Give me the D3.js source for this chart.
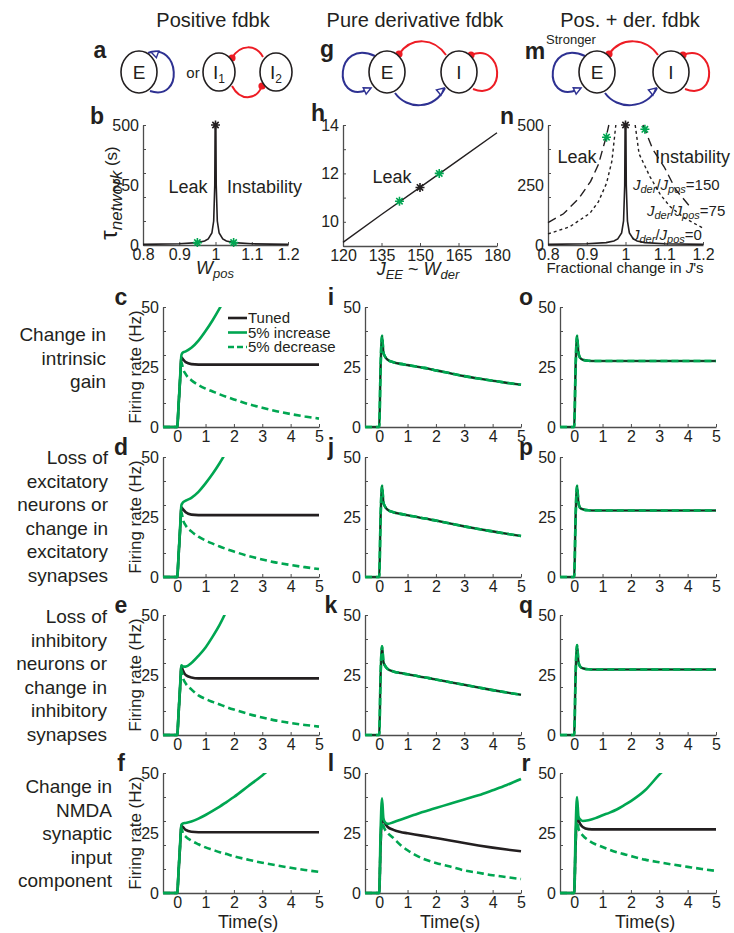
<!DOCTYPE html>
<html>
<head>
<meta charset="utf-8">
<script src="https://cdn.jsdelivr.net/npm/d3@7"></script>
<style>
  body { margin: 0; background: #fff; }
  svg text { font-family: "Liberation Sans", Arial, sans-serif; fill: #231f20; }
</style>
</head>
<body>
<script>
// ---- data ----
const colTitles = ["Positive fdbk", "Pure derivative fdbk", "Pos. + der. fdbk"];
const rowLabels = [
  ["Change in", "intrinsic", "gain"],
  ["Loss of", "excitatory", "neurons or", "change in", "excitatory", "synapses"],
  ["Loss of", "inhibitory", "neurons or", "change in", "inhibitory", "synapses"],
  ["Change in", "NMDA", "synaptic", "input", "component"]
];
const legendLabels = ["Tuned", "5% increase", "5% decrease"];

// b: tau_network vs W_pos
const wPos   = [0.8, 0.9, 0.95, 0.97, 0.98, 0.99, 0.995, 0.998, 0.999, 1, 1.001, 1.002, 1.005, 1.01, 1.02, 1.03, 1.05, 1.1, 1.2];
const tauPos = [2.5, 5, 10, 17, 25, 50, 100, 250, 500, 500, 500, 250, 100, 50, 25, 17, 10, 5, 2.5];
const bStarW = [0.95, 1.05], bStarTau = [10, 10];
const bPeak = [1, 500];

// h: tau_network vs J_EE ~ W_der
const jEE    = [120, 135, 150, 165, 180];
const tauDer = [9.15, 10.3, 11.42, 12.55, 13.68];
const hStarJ = [142, 157.5], hStarTau = [10.85, 12.0];
const hPeak = [150, 11.42];

// n: tau_network vs fractional change in J's
const frac0 = wPos, tau0 = tauPos;
const frac150L = [0.8, 0.84, 0.88, 0.91, 0.93, 0.95, 0.957];
const tau150L  = [93, 130, 195, 265, 335, 450, 500];
const frac150R = [1.045, 1.05, 1.07, 1.1, 1.13, 1.17];
const tau150R  = [500, 482, 400, 325, 230, 153];
const frac75L  = [0.8, 0.856, 0.908, 0.93, 0.951, 0.965, 0.975];
const tau75L   = [46, 76, 132, 180, 257, 350, 500];
const frac75R  = [1.025, 1.035, 1.063, 1.09, 1.115, 1.15, 1.2];
const tau75R   = [500, 380, 285, 210, 160, 115, 70];
const nStarF = [0.951, 1.05], nStarTau = [449, 482];
const nPeak = [1, 500];

// c-r: firing rate (Hz) sampled at these times (s)
const T = [-0.5, 0, 0.05, 0.1, 0.15, 0.2, 0.3, 0.5, 0.75, 1, 1.25, 1.5, 1.75, 2, 2.5, 3, 3.5, 4, 4.5, 5];

const cTuned = [0, 0, 9, 19, 29, 28.3, 27, 26.2, 26, 26, 26, 26, 26, 26, 26, 26, 26, 26, 26, 26];
const cUp    = [0, 0, 9.5, 20, 30, 31, 31.5, 33, 36, 40, 44.5, 49.5, 55];
const cDown  = [0, 0, 9, 19, 27, 24.5, 22, 19.5, 17.5, 16, 14.8, 13.6, 12.5, 11.5, 9.6, 8, 6.6, 5.4, 4.4, 3.5];

const dTuned = [0, 0, 9, 19, 29, 28.3, 27, 26, 25.8, 25.8, 25.8, 25.8, 25.8, 25.8, 25.8, 25.8, 25.8, 25.8, 25.8, 25.8];
const dUp    = [0, 0, 9.5, 20, 30, 31, 31.8, 33, 35.5, 39, 43, 47.5, 52.5];
const dDown  = [0, 0, 9, 19, 27, 24, 21.5, 19, 16.8, 15.2, 13.9, 12.7, 11.6, 10.6, 8.8, 7.3, 6, 5, 4.1, 3.3];

const eTuned = [0, 0, 9, 19, 28.5, 27, 25, 24, 23.6, 23.6, 23.6, 23.6, 23.6, 23.6, 23.6, 23.6, 23.6, 23.6, 23.6, 23.6];
const eUp    = [0, 0, 9.5, 20, 29, 28.6, 28.5, 30, 33, 36.5, 41, 46, 52];
const eDown  = [0, 0, 9, 19, 27, 24, 21.5, 19, 16.5, 15, 13.8, 12.7, 11.6, 10.6, 8.8, 7.3, 6, 5, 4.2, 3.5];

const fTuned = [0, 0, 9, 19, 28, 27.5, 26.3, 25.5, 25.3, 25.3, 25.3, 25.3, 25.3, 25.3, 25.3, 25.3, 25.3, 25.3, 25.3, 25.3];
const fUp    = [0, 0, 9.5, 20, 28.5, 29, 29.2, 29.8, 31, 32.5, 34.2, 36, 38, 40, 44.5, 49, 54];
const fDown  = [0, 0, 9, 19, 27, 25, 23.5, 21.8, 20.3, 19, 18, 17, 16.2, 15.3, 13.9, 12.6, 11.5, 10.5, 9.6, 8.8];

const iRate = [0, 0, 25, 38, 31, 29.5, 28, 27, 26.3, 25.8, 25.3, 24.8, 24.3, 23.6, 22.4, 21.2, 20.2, 19.3, 18.4, 17.6];
const jRate = [0, 0, 25, 38, 31, 29.5, 28, 27, 26.3, 25.7, 25.2, 24.6, 24.1, 23.5, 22.3, 21.1, 20, 19, 18, 17.1];
const kRate = [0, 0, 25, 37, 30.5, 29, 27.5, 26.5, 25.8, 25.3, 24.8, 24.2, 23.7, 23.1, 22, 20.9, 19.8, 18.7, 17.7, 16.8];

const lTuned = [0, 0, 20, 32, 30, 29, 27.5, 26.3, 25.4, 24.9, 24.4, 23.9, 23.4, 22.9, 21.9, 20.8, 19.8, 18.9, 18.1, 17.4];
const lUp    = [0, 0, 26, 39.5, 31, 29.5, 28.8, 29.5, 30.5, 31.6, 32.6, 33.6, 34.5, 35.4, 37.2, 39, 40.7, 42.8, 45, 47.5];
const lDown  = [0, 0, 20, 32, 28, 26.5, 25, 22.9, 20, 17.8, 16, 14.5, 13.4, 12.5, 11, 9.4, 8.4, 7.4, 6.6, 5.8];

const oRate = [0, 0, 25, 38, 31, 29, 28, 27.6, 27.5, 27.5, 27.5, 27.5, 27.5, 27.5, 27.5, 27.5, 27.5, 27.5, 27.5, 27.5];
const pRate = [0, 0, 25, 38, 31, 29, 28.2, 27.8, 27.7, 27.7, 27.7, 27.7, 27.7, 27.7, 27.7, 27.7, 27.7, 27.7, 27.7, 27.7];
const qRate = [0, 0, 25, 37.5, 30.5, 28.7, 27.8, 27.4, 27.3, 27.3, 27.3, 27.3, 27.3, 27.3, 27.3, 27.3, 27.3, 27.3, 27.3, 27.3];

const rTuned = [0, 0, 20, 33, 30.5, 29, 27.5, 26.6, 26.5, 26.5, 26.5, 26.5, 26.5, 26.5, 26.5, 26.5, 26.5, 26.5, 26.5, 26.5];
const rUp    = [0, 0, 26, 40, 32, 30.8, 30, 30.3, 31.2, 32.4, 33.5, 34.8, 36.5, 38.3, 42.8, 49.3, 55];
const rDown  = [0, 0, 20, 32, 27, 25.6, 24, 22, 20.3, 19.2, 18, 17, 16.2, 15.4, 13.9, 12.8, 11.8, 10.9, 10, 9.2];

const panels = [
  { id: "c", col: 0, row: 0, tuned: cTuned, up: cUp, down: cDown },
  { id: "d", col: 0, row: 1, tuned: dTuned, up: dUp, down: dDown },
  { id: "e", col: 0, row: 2, tuned: eTuned, up: eUp, down: eDown },
  { id: "f", col: 0, row: 3, tuned: fTuned, up: fUp, down: fDown },
  { id: "i", col: 1, row: 0, tuned: iRate, up: iRate, down: iRate },
  { id: "j", col: 1, row: 1, tuned: jRate, up: jRate, down: jRate },
  { id: "k", col: 1, row: 2, tuned: kRate, up: kRate, down: kRate },
  { id: "l", col: 1, row: 3, tuned: lTuned, up: lUp, down: lDown },
  { id: "o", col: 2, row: 0, tuned: oRate, up: oRate, down: oRate },
  { id: "p", col: 2, row: 1, tuned: pRate, up: pRate, down: pRate },
  { id: "q", col: 2, row: 2, tuned: qRate, up: qRate, down: qRate },
  { id: "r", col: 2, row: 3, tuned: rTuned, up: rUp, down: rDown }
];

// ---- layout ----
const GREEN = "#00a651", BLACK = "#231f20", BLUE = "#2e3192", RED = "#ed1c24", AXIS = "#4d4d4d";
const colX = [163, 365, 560], panelW = 156;
const rowTop = [307, 457, 615, 773], panelH = 120;
const rowLabelX = [106, 108, 107, 112], rowLabelY = [341, 464, 623, 793], rowLabelGap = 23.6;
const letterDX = [-42, -34, -34];

const svg = d3.select("body").append("svg").attr("width", 734).attr("height", 933);
svg.append("rect").attr("width", 734).attr("height", 933).attr("fill", "#fff");
const defs = svg.append("defs");

// MATLAB-like axes: left + bottom line, inward ticks, labels set separately
function drawAxes(g, x, y, o) {
  const x0 = x.range()[0], y0 = y.range()[0];
  const ya = g.append("g").attr("transform", `translate(${x0},0)`)
    .call(d3.axisLeft(y).tickValues(o.yTicks).tickSizeInner(-3).tickSizeOuter(0).tickFormat(""));
  const yl = g.append("g").attr("transform", `translate(${x0},0)`)
    .call(d3.axisLeft(y).tickValues(o.yLabels).tickSize(0).tickPadding(4).tickFormat(o.yFmt || d3.format("")));
  yl.select(".domain").remove();
  const xa = g.append("g").attr("transform", `translate(0,${y0})`)
    .call(d3.axisBottom(x).tickValues(o.xTicks).tickSizeInner(-3).tickSizeOuter(0).tickFormat(""));
  const xl = g.append("g").attr("transform", `translate(0,${y0})`)
    .call(d3.axisBottom(x).tickValues(o.xLabels).tickSize(0).tickPadding(4).tickFormat(o.xFmt || d3.format("")));
  xl.select(".domain").remove();
  [ya, xa].forEach(a => {
    a.select(".domain").attr("stroke", AXIS).attr("stroke-width", 1.3);
    a.selectAll(".tick line").attr("stroke", AXIS).attr("stroke-width", 1);
  });
  [yl, xl].forEach(a => a.selectAll("text").attr("font-size", 16).attr("font-family", null).attr("fill", "#231f20"));
}

function star(g, cx, cy, color) {
  const r = 4.5;
  let d = "";
  [0, 45, 90, 135].forEach(a => {
    const t = a * Math.PI / 180, dx = r * Math.cos(t), dy = r * Math.sin(t);
    d += `M${cx + dx},${cy + dy}L${cx - dx},${cy - dy}`;
  });
  g.append("path").attr("d", d).attr("stroke", color).attr("stroke-width", 1.6).attr("fill", "none");
}

function letter(x, y, s) {
  svg.append("text").attr("x", x).attr("y", y).attr("text-anchor", "middle")
    .attr("font-size", 23).attr("font-weight", "bold").text(s);
}

// ---- column titles ----
svg.selectAll(".coltitle").data(colTitles).join("text")
  .attr("class", "coltitle")
  .attr("x", (d, i) => [213, 415, 630][i]).attr("y", 27)
  .attr("text-anchor", "middle").attr("font-size", 20).text(d => d);

// ---- network schematics ----
const dg = svg.append("g").attr("fill", "none");
function node(cx, cy, rx, ry, lab, sub) {
  dg.append("ellipse").attr("cx", cx).attr("cy", cy).attr("rx", rx).attr("ry", ry)
    .attr("stroke", BLACK).attr("stroke-width", 1.6).attr("fill", "#fff");
  const t = dg.append("text").attr("x", cx).attr("y", cy + 7).attr("text-anchor", "middle").attr("font-size", 19);
  t.append("tspan").text(lab);
  if (sub) t.append("tspan").attr("font-size", 12).attr("dy", 4).text(sub);
}
function arc(d, color) {
  dg.append("path").attr("d", d).attr("stroke", color).attr("stroke-width", 2).attr("fill", "none");
}
function dot(x, y) { dg.append("circle").attr("cx", x).attr("cy", y).attr("r", 3.6).attr("fill", RED); }
function tri(x, y, ang) {
  const a = ang * Math.PI / 180, L = 7, W = 3.5;
  const bx = x - L * Math.cos(a), by = y - L * Math.sin(a);
  const px = -Math.sin(a) * W, py = Math.cos(a) * W;
  dg.append("path").attr("d", `M${x},${y}L${bx + px},${by + py}L${bx - px},${by - py}Z`)
    .attr("stroke", BLUE).attr("stroke-width", 1.4).attr("fill", "#fff");
}

// a
arc("M148,53 C180,42 184,102 150,91", BLUE); tri(151, 52, 200);
node(139, 72, 18, 21, "E");
svg.append("text").attr("x", 193).attr("y", 78).attr("text-anchor", "middle").attr("font-size", 15).text("or");
arc("M232,58 C240,44 256,44 263,57", RED); dot(232, 58);
arc("M232,86 C240,101 256,101 262,86", RED); dot(262, 86);
node(219, 72, 16, 19, "I", "1");
node(276, 72, 16, 19, "I", "2");
letter(100, 58, "a");

// g and m share the same wiring
function exciteInhib(ex, ix) {
  arc(`M${ex - 12},${56} C${ex - 52},${38} ${ex - 55},${104} ${ex - 20},${90}`, BLUE); tri(ex - 16, 88, -25);
  arc(`M${ex + 8},${93} C${ex + 20},${110} ${ix - 25},${110} ${ix - 14},${88}`, BLUE); tri(ix - 15, 88, -40);
  arc(`M${ix - 13},${55} C${ix - 25},${38} ${ex + 25},${36} ${ex + 12},${54}`, RED); dot(ex + 12, 54);
  arc(`M${ix + 12},${55} C${ix + 45},${42} ${ix + 48},${102} ${ix + 14},${89}`, RED); dot(ix + 12, 55);
  node(ex, 72, 18, 21, "E");
  node(ix, 72, 18, 21, "I");
}
exciteInhib(387, 459); letter(327, 57, "g");
exciteInhib(597, 671); letter(535, 59, "m");
svg.append("text").attr("x", 571).attr("y", 44).attr("text-anchor", "middle").attr("font-size", 13).text("Stronger");

// ---- b ----
{
  const g = svg.append("g");
  const x = d3.scaleLinear().domain([0.8, 1.2]).range([143, 288]);
  const y = d3.scaleLinear().domain([0, 500]).range([245, 125]);
  drawAxes(g, x, y, { yTicks: d3.range(0, 501, 100), yLabels: [0, 250, 500],
    xTicks: [0.8, 0.9, 1, 1.1, 1.2], xLabels: [0.8, 0.9, 1, 1.1, 1.2] });
  g.append("path").datum(wPos.map((w, i) => [w, tauPos[i]]))
    .attr("d", d3.line().x(d => x(d[0])).y(d => y(d[1])))
    .attr("fill", "none").attr("stroke", BLACK).attr("stroke-width", 1.6);
  bStarW.forEach((w, i) => star(g, x(w), y(bStarTau[i]), GREEN));
  star(g, x(bPeak[0]), y(bPeak[1]), BLACK);
  g.append("text").attr("x", 188).attr("y", 193).attr("text-anchor", "middle").attr("font-size", 18).text("Leak");
  g.append("text").attr("x", 227).attr("y", 193).attr("font-size", 18).text("Instability");
  const tl = g.append("text").attr("transform", "translate(117,193) rotate(-90)").attr("text-anchor", "middle").attr("font-size", 17);
  tl.append("tspan").attr("font-size", 24).text("τ");
  tl.append("tspan").attr("font-style", "italic").attr("dy", 5).text("network");
  tl.append("tspan").attr("dy", -5).text(" (s)");
  const xl = g.append("text").attr("x", 215).attr("y", 274).attr("text-anchor", "middle").attr("font-size", 18);
  xl.append("tspan").attr("font-style", "italic").text("W");
  xl.append("tspan").attr("font-style", "italic").attr("font-size", 13).attr("dy", 4).text("pos");
  letter(97, 124, "b");
}

// ---- h ----
{
  const g = svg.append("g");
  const x = d3.scaleLinear().domain([120, 180]).range([343, 497]);
  const y = d3.scaleLinear().domain([9, 14]).range([246, 125]);
  drawAxes(g, x, y, { yTicks: d3.range(9, 15), yLabels: [10, 12, 14],
    xTicks: [120, 135, 150, 165, 180], xLabels: [120, 135, 150, 165, 180] });
  g.append("path").datum(jEE.map((j, i) => [j, tauDer[i]]))
    .attr("d", d3.line().x(d => x(d[0])).y(d => y(d[1])))
    .attr("fill", "none").attr("stroke", BLACK).attr("stroke-width", 1.4);
  hStarJ.forEach((j, i) => star(g, x(j), y(hStarTau[i]), GREEN));
  star(g, x(hPeak[0]), y(hPeak[1]), BLACK);
  g.append("text").attr("x", 392).attr("y", 183).attr("text-anchor", "middle").attr("font-size", 18).text("Leak");
  const xl = g.append("text").attr("x", 418).attr("y", 275).attr("text-anchor", "middle").attr("font-size", 18);
  xl.append("tspan").attr("font-style", "italic").text("J");
  xl.append("tspan").attr("font-style", "italic").attr("font-size", 13).attr("dy", 4).text("EE");
  xl.append("tspan").attr("dy", -4).text(" ~ ");
  xl.append("tspan").attr("font-style", "italic").text("W");
  xl.append("tspan").attr("font-style", "italic").attr("font-size", 13).attr("dy", 4).text("der");
  letter(318, 121, "h");
}

// ---- n ----
{
  const g = svg.append("g");
  const x = d3.scaleLinear().domain([0.8, 1.2]).range([548, 703]);
  const y = d3.scaleLinear().domain([0, 500]).range([245, 125]);
  drawAxes(g, x, y, { yTicks: d3.range(0, 501, 100), yLabels: [0, 250, 500],
    xTicks: [0.8, 0.9, 1, 1.1, 1.2], xLabels: [0.8, 0.9, 1, 1.1, 1.2] });
  const ln = d3.line().x(d => x(d[0])).y(d => y(d[1]));
  const curves = [
    [frac0, tau0, null, 1.6],
    [frac150L, tau150L, "9,5", 1.4], [frac150R, tau150R, "9,5", 1.4],
    [frac75L, tau75L, "3,3", 1.4], [frac75R, tau75R, "3,3", 1.4]
  ];
  curves.forEach(([fx, ty, dash, w]) => {
    g.append("path").datum(fx.map((f, i) => [f, ty[i]])).attr("d", ln)
      .attr("fill", "none").attr("stroke", BLACK).attr("stroke-width", w)
      .attr("stroke-dasharray", dash);
  });
  nStarF.forEach((f, i) => star(g, x(f), y(nStarTau[i]), GREEN));
  star(g, x(nPeak[0]), y(nPeak[1]), BLACK);
  g.append("text").attr("x", 577).attr("y", 163).attr("text-anchor", "middle").attr("font-size", 18).text("Leak");
  g.append("text").attr("x", 655).attr("y", 163).attr("font-size", 18).text("Instability");
  const ratio = (xx, yy, val) => {
    const t = g.append("text").attr("x", xx).attr("y", yy).attr("font-size", 15);
    t.append("tspan").attr("font-style", "italic").text("J");
    t.append("tspan").attr("font-style", "italic").attr("font-size", 11).attr("dy", 3).text("der");
    t.append("tspan").attr("dy", -3).text("/");
    t.append("tspan").attr("font-style", "italic").text("J");
    t.append("tspan").attr("font-style", "italic").attr("font-size", 11).attr("dy", 3).text("pos");
    t.append("tspan").attr("dy", -3).text("=" + val);
  };
  ratio(633, 190, 150); ratio(647, 216, 75); ratio(632, 240, 0);
  const xl = g.append("text").attr("x", 625).attr("y", 273).attr("text-anchor", "middle").attr("font-size", 15);
  xl.append("tspan").text("Fractional change in ");
  xl.append("tspan").attr("font-style", "italic").text("J");
  xl.append("tspan").text("'s");
  letter(507, 124, "n");
}

// ---- row labels ----
rowLabels.forEach((lines, r) => {
  const t = svg.append("text").attr("text-anchor", "end").attr("font-size", 19);
  lines.forEach((s, k) => t.append("tspan").attr("x", rowLabelX[r]).attr("y", rowLabelY[r] + k * rowLabelGap).text(s));
});

// ---- time-course panels ----
panels.forEach(p => {
  const x0 = colX[p.col], y0 = rowTop[p.row];
  const x = d3.scaleLinear().domain([-0.5, 5]).range([x0, x0 + panelW]);
  const y = d3.scaleLinear().domain([0, 50]).range([y0 + panelH, y0]);
  const g = svg.append("g");
  drawAxes(g, x, y, { yTicks: d3.range(0, 51, 10), yLabels: [0, 25, 50],
    xTicks: d3.range(0, 6), xLabels: d3.range(0, 6) });

  defs.append("clipPath").attr("id", "clip-" + p.id)
    .append("rect").attr("x", x0 - 2).attr("y", y0).attr("width", panelW + 6).attr("height", panelH + 4);
  const plot = g.append("g").attr("clip-path", `url(#clip-${p.id})`);
  const line = d3.line().x((d, i) => x(T[i])).y(d => y(d)).curve(d3.curveMonotoneX);
  // when all three runs coincide the tuned trace shows through the dash gaps
  const order = p.up === p.tuned ? ["up", "tuned", "down"] : ["tuned", "up", "down"];
  const style = {
    tuned: [BLACK, null],
    up: [GREEN, null],
    down: [GREEN, "7,4"]
  };
  order.forEach(k => {
    plot.append("path").datum(p[k]).attr("d", line).attr("fill", "none")
      .attr("stroke", style[k][0]).attr("stroke-width", k === "tuned" && p.up === p.tuned ? 1.6 : 2.6)
      .attr("stroke-dasharray", style[k][1]);
  });

  if (p.col === 0) {
    svg.append("text").attr("transform", `translate(141,${y0 + panelH / 2}) rotate(-90)`)
      .attr("text-anchor", "middle").attr("font-size", 17).text("Firing rate (Hz)");
  }
  if (p.row === 3) {
    svg.append("text").attr("x", x(2.5)).attr("y", 928).attr("text-anchor", "middle")
      .attr("font-size", 18).text("Time(s)");
  }
  letter(x0 + letterDX[p.col], y0 - 2, p.id);
});

// legend in c
{
  const lg = svg.append("g").attr("transform", "translate(228,318)");
  const styles = [[BLACK, null], [GREEN, null], [GREEN, "6,3"]];
  legendLabels.forEach((s, i) => {
    lg.append("line").attr("x1", 0).attr("x2", 19).attr("y1", i * 14.5).attr("y2", i * 14.5)
      .attr("stroke", styles[i][0]).attr("stroke-width", 2.6).attr("stroke-dasharray", styles[i][1]);
    lg.append("text").attr("x", 20).attr("y", i * 14.5 + 5).attr("font-size", 15).text(s);
  });
}
</script>
</body>
</html>
